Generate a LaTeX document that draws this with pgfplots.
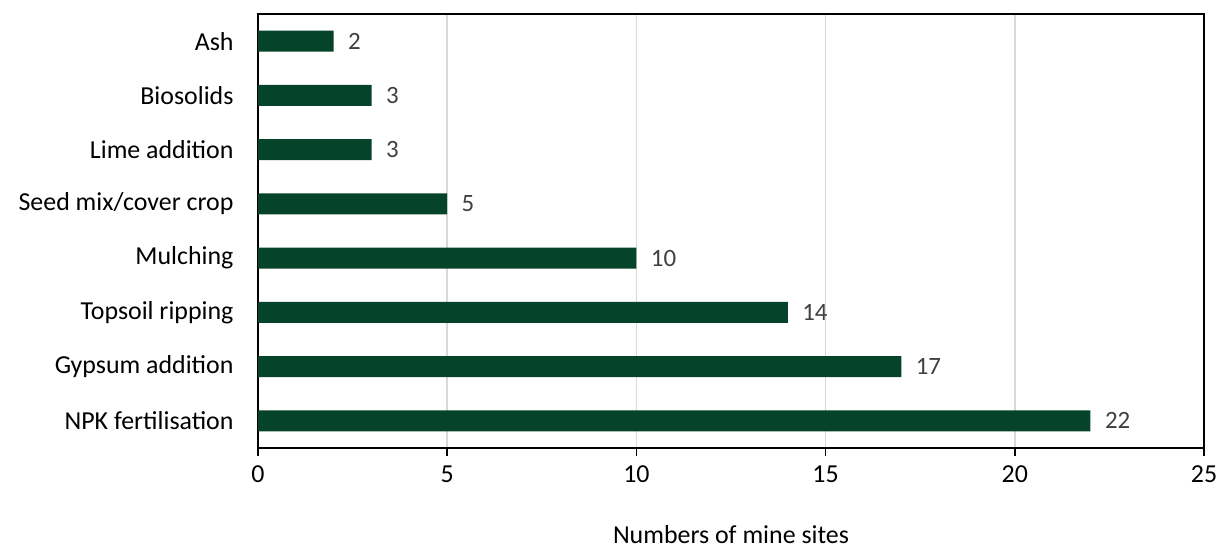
\documentclass[border=0pt]{standalone}
\usepackage{pgfplots}
\pgfplotsset{compat=1.18}
\usepackage{fontspec}
\setmainfont{Carlito}
\definecolor{bargreen}{HTML}{05432A}
\definecolor{valgray}{HTML}{404040}
\definecolor{gridgray}{HTML}{D9D9D9}

\begin{document}
\begin{tikzpicture}
\begin{axis}[
  scale only axis,
  width=946bp, height=434bp,
  xbar, bar width=21bp,
  xmin=0, xmax=25, ymin=-0.5, ymax=7.5,
  xtick={0,5,...,25}, ytick={0,...,7},
  yticklabels={NPK fertilisation, Gypsum addition, Topsoil ripping, Mulching,
               Seed mix/cover crop, Lime addition, Biosolids, Ash},
  axis line style={line width=2bp, black},
  xmajorgrids, grid style={gridgray, line width=1.5bp},
  y tick style={draw=none},
  x tick style={line width=1.5bp, black},
  tick align=outside, major tick length=8bp,
  xtick pos=lower,
  font=\fontsize{26}{31}\selectfont,
  /pgf/number format/assume math mode=true,
  yticklabel style={xshift=-13bp},
  xticklabel style={yshift=-6bp},
  nodes near coords,
  nodes near coords style={text=valgray, anchor=west, xshift=11bp,
    font=\fontsize{25}{30}\selectfont,
    /pgf/number format/assume math mode=true},
  xlabel={Numbers of mine sites},
  xlabel style={at={(axis description cs:0.5,-0.199)}, anchor=center},
]
\addplot[fill=bargreen, draw=none]
  coordinates {(22,0) (17,1) (14,2) (10,3) (5,4) (3,5) (3,6) (2,7)};
\coordinate (bl) at (rel axis cs:-0.27273,-0.23041);
\coordinate (tr) at (rel axis cs:1.01586,1.03226);
\end{axis}
\pgfresetboundingbox
\path (bl) rectangle (tr);
\end{tikzpicture}
\end{document}
